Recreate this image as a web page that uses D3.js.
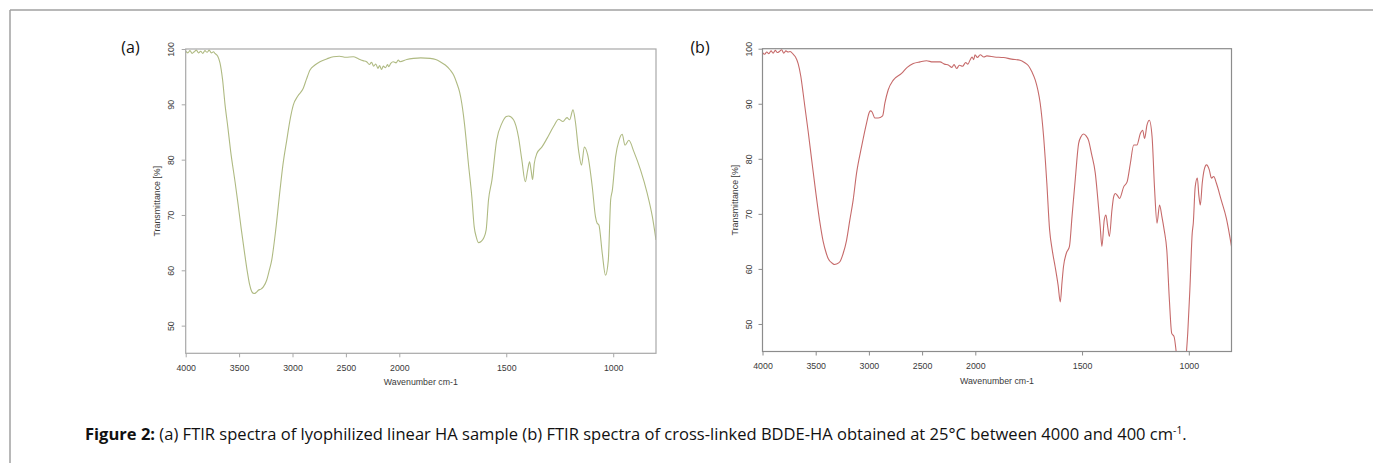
<!DOCTYPE html>
<html>
<head>
<meta charset="utf-8">
<script src="https://cdn.jsdelivr.net/npm/d3@7"></script>
<style>
  html, body { margin: 0; padding: 0; background: #fff; }
  svg { display: block; }
</style>
</head>
<body>
<svg id="chart" width="1373" height="463"></svg>
<script>
// ---------------- DATA ----------------
const panelLabels = ["(a)", "(b)"];
const xTickValues = [4000, 3500, 3000, 2500, 2000, 1500, 1000];
const yTickValues = [50, 60, 70, 80, 90, 100];
const xAxisTitle = "Wavenumber cm-1";
const yAxisTitle = "Transmittance [%]";

// (a) lyophilized linear HA
const wavenumberA = [4000,3980,3960,3940,3920,3900,3880,3860,3840,3820,3800,3780,3760,3740,3726,3700,3679,3655,3632,3605,3579,3538,3510,3480,3450,3425,3400,3380,3360,3340,3320,3295,3273,3242,3220,3195,3157,3117,3090,3054,3020,2992,2950,2899,2870,2836,2790,2743,2680,2618,2560,2500,2431,2380,2340,2306,2280,2260,2240,2220,2200,2185,2166,2150,2130,2110,2100,2080,2057,2030,2010,1997,1965,1934,1900,1856,1830,1809,1785,1762,1745,1731,1718,1708,1700,1692,1677,1661,1650,1640,1630,1618,1606,1594,1583,1567,1545,1520,1500,1489,1466,1443,1427,1411,1400,1391,1384,1377,1369,1357,1333,1310,1279,1255,1235,1216,1204,1188,1177,1162,1148,1135,1119,1098,1083,1075,1067,1051,1036,1023,1012,1004,989,973,958,945,927,903,872,841,817,800];
const transmittanceA = [99.6,99.3,99.7,99.2,99.5,99.8,99.3,99.6,99.2,99.7,99.4,99.8,99.3,99.5,99.2,98.7,97.5,94.5,90.0,85.8,81.5,76.0,72.0,67.5,63.3,60.0,57.3,56.1,55.8,56.0,56.4,56.6,57.0,58.2,59.8,61.8,67.3,74.5,79.0,83.5,87.5,89.9,91.5,92.9,94.5,96.2,97.1,97.7,98.2,98.6,98.7,98.5,98.6,98.2,97.9,97.7,97.2,97.6,96.9,97.3,96.5,97.0,96.3,96.9,96.6,97.2,96.8,97.4,97.7,97.5,98.0,97.7,98.1,98.3,98.4,98.3,98.1,97.7,97.1,96.2,95.2,93.8,92.2,90.2,88.0,85.3,79.3,73.3,67.9,66.0,65.0,65.2,65.8,67.3,72.7,76.3,83.5,86.6,87.8,87.9,87.2,84.1,79.9,76.0,78.1,79.6,78.1,76.4,79.3,81.1,82.3,83.8,86.0,87.3,86.9,87.6,87.2,89.0,86.9,81.7,79.0,82.3,80.8,75.1,69.7,68.5,68.2,63.0,59.1,61.8,72.7,74.5,80.5,83.5,84.6,82.6,83.5,81.4,78.1,73.9,69.7,65.5];

// (b) cross-linked BDDE-HA
const wavenumberB = [4000,3980,3960,3940,3920,3900,3880,3860,3840,3820,3800,3780,3760,3740,3712,3690,3665,3640,3618,3602,3571,3539,3500,3461,3430,3400,3383,3342,3320,3304,3273,3242,3210,3179,3148,3116,3069,3022,2995,2984,2970,2944,2913,2871,2850,2819,2771,2693,2640,2583,2520,2458,2400,2332,2290,2250,2220,2200,2175,2150,2120,2090,2070,2050,2030,2015,2003,1990,1977,1960,1946,1910,1868,1830,1790,1770,1751,1735,1719,1707,1696,1680,1665,1652,1640,1626,1612,1602,1594,1587,1574,1559,1547,1532,1516,1505,1493,1482,1470,1455,1438,1423,1415,1407,1396,1388,1380,1372,1360,1352,1344,1334,1324,1305,1289,1274,1258,1243,1227,1216,1207,1196,1185,1172,1160,1149,1137,1126,1115,1103,1091,1080,1069,1056,1040,1025,1013,1005,995,984,979,970,960,953,946,937,928,917,904,894,883,871,848,824,800];
const transmittanceB = [99.3,99.0,99.4,99.1,99.6,99.2,99.7,99.3,99.5,99.8,99.2,99.6,99.4,99.5,99.0,98.5,97.3,95.0,91.9,89.5,85.0,80.0,74.0,68.5,65.0,62.8,61.9,61.0,60.8,60.9,61.3,62.8,65.2,68.9,72.5,77.4,82.2,86.5,88.5,88.7,88.5,87.4,87.4,87.8,90.1,92.5,94.3,95.5,96.6,97.3,97.6,97.8,97.6,97.6,97.2,97.0,96.6,97.1,96.4,97.0,96.8,97.5,97.2,97.9,98.5,98.0,98.9,98.4,98.9,98.5,98.7,98.5,98.4,98.1,97.9,97.5,96.9,95.8,94.3,92.5,90.1,84.0,75.6,67.1,63.5,60.4,57.0,54.0,57.5,60.4,62.8,64.1,69.5,76.2,82.8,84.0,84.5,84.2,83.4,80.8,77.4,71.3,67.7,64.1,68.9,69.8,67.7,65.9,70.7,73.1,73.7,73.3,72.8,74.9,75.8,79.1,82.5,82.5,84.6,85.2,83.7,86.1,87.0,84.0,74.3,68.3,71.6,69.5,67.0,63.4,54.4,48.3,47.7,44.0,40.0,41.0,44.0,48.3,56.2,66.5,68.3,74.9,76.5,73.4,71.6,75.6,78.0,78.9,78.0,76.5,76.8,75.6,72.5,69.2,64.1];

const captionBold = "Figure 2:";
const captionText = " (a) FTIR spectra of lyophilized linear HA sample (b) FTIR spectra of cross-linked BDDE-HA obtained at 25°C between 4000 and 400 cm";
const captionSup = "-1";
const captionEnd = ".";

// ---------------- LAYOUT ----------------
const panels = [
  { label: panelLabels[0], wn: wavenumberA, t: transmittanceA, color: "#afba82", frame: "#a8a8a8",
    left: 185.7, mid: 399.3, right: 656, top: 49, bottom: 353.3, labelX: 130.5, ytickOff: 15, ytitleOff: 29 },
  { label: panelLabels[1], wn: wavenumberB, t: transmittanceB, color: "#c66a6a", frame: "#8c8c8c",
    left: 762.5, mid: 975.3, right: 1231.5, top: 48.7, bottom: 351.5, labelX: 700, ytickOff: 13.5, ytitleOff: 27.5 }
];

const svg = d3.select("#chart");

// outer figure border (top and left)
svg.append("line").attr("x1", 10).attr("y1", 10).attr("x2", 1373).attr("y2", 10)
  .attr("stroke", "#a0a0a0").attr("stroke-width", 1.5);
svg.append("line").attr("x1", 10).attr("y1", 10).attr("x2", 10).attr("y2", 463)
  .attr("stroke", "#a0a0a0").attr("stroke-width", 1.5);

const tickFont = "'Liberation Sans', Arial, sans-serif";

panels.forEach((p, i) => {
  const x = d3.scaleLinear().domain([4000, 2000, 800]).range([p.left, p.mid, p.right]);
  const y = d3.scaleLinear().domain([45, 100]).range([p.bottom, p.top]);
  const g = svg.append("g");

  const clipId = "clip" + i;
  svg.append("defs").append("clipPath").attr("id", clipId)
    .append("rect").attr("x", p.left).attr("y", p.top)
    .attr("width", p.right - p.left).attr("height", p.bottom - p.top);

  // spectrum line
  const pts = p.wn.map((w, k) => [w, p.t[k]]);
  g.append("path")
    .datum(pts)
    .attr("clip-path", `url(#${clipId})`)
    .attr("fill", "none")
    .attr("stroke", p.color)
    .attr("stroke-width", 1.1)
    .attr("stroke-linejoin", "round")
    .attr("d", d3.line().x(d => x(d[0])).y(d => y(d[1])).curve(d3.curveMonotoneX));

  // frame box
  g.append("rect")
    .attr("x", p.left).attr("y", p.top)
    .attr("width", p.right - p.left).attr("height", p.bottom - p.top)
    .attr("fill", "none").attr("stroke", p.frame).attr("stroke-width", 1.2);

  // x axis
  const xa = g.append("g").attr("transform", `translate(0,${p.bottom})`)
    .call(d3.axisBottom(x).tickValues(xTickValues).tickSize(4).tickSizeOuter(0).tickPadding(7).tickFormat(d3.format("d")));
  xa.select(".domain").remove();
  xa.selectAll("line").attr("stroke", p.frame);
  xa.selectAll("text").attr("font-family", tickFont).attr("font-size", 8.8).attr("fill", "#3a3a3a");

  // y axis
  const ya = g.append("g").attr("transform", `translate(${p.left},0)`)
    .call(d3.axisLeft(y).tickValues(yTickValues).tickSize(4).tickSizeOuter(0).tickFormat(d3.format("d")));
  ya.select(".domain").remove();
  ya.selectAll("line").attr("stroke", p.frame);
  ya.selectAll("text")
    .attr("x", null).attr("dy", null)
    .attr("text-anchor", "middle")
    .attr("dominant-baseline", "central")
    .attr("transform", `translate(${-p.ytickOff},0) rotate(-90)`)
    .attr("font-family", tickFont).attr("font-size", 8.8).attr("fill", "#3a3a3a");

  // axis titles
  g.append("text")
    .attr("x", (p.left + p.right) / 2).attr("y", p.bottom + 32)
    .attr("text-anchor", "middle")
    .attr("font-family", tickFont).attr("font-size", 8.8).attr("fill", "#3a3a3a")
    .text(xAxisTitle);
  g.append("text")
    .attr("transform", `translate(${p.left - p.ytitleOff},${(p.top + p.bottom) / 2}) rotate(-90)`)
    .attr("text-anchor", "middle").attr("dominant-baseline", "central")
    .attr("font-family", tickFont).attr("font-size", 8.8).attr("fill", "#3a3a3a")
    .text(yAxisTitle);

  // panel label
  g.append("text")
    .attr("x", p.labelX).attr("y", 53)
    .attr("text-anchor", "middle")
    .attr("font-family", "'Open Sans', sans-serif").attr("font-size", 16).attr("fill", "#111")
    .text(p.label);
});

// caption
const capFs = 16;
const cap = svg.append("text")
  .attr("x", 0).attr("y", 440.5)
  .attr("font-family", "'Open Sans', sans-serif").attr("font-size", capFs).attr("fill", "#111");
cap.append("tspan").attr("font-weight", "bold").text(captionBold);
cap.append("tspan").text(captionText);
cap.append("tspan").attr("dy", -capFs * 0.38).attr("font-size", capFs * 0.62).text(captionSup);
cap.append("tspan").attr("dy", capFs * 0.38).text(captionEnd);

// squeeze caption horizontally to the reference span (85 -> 1187)
const targetW = 1187 - 85;
const bb = cap.node().getBBox();
const sx = targetW / bb.width;
cap.attr("transform", `translate(${85 - bb.x * sx},0) scale(${sx},1)`);
</script>
</body>
</html>
